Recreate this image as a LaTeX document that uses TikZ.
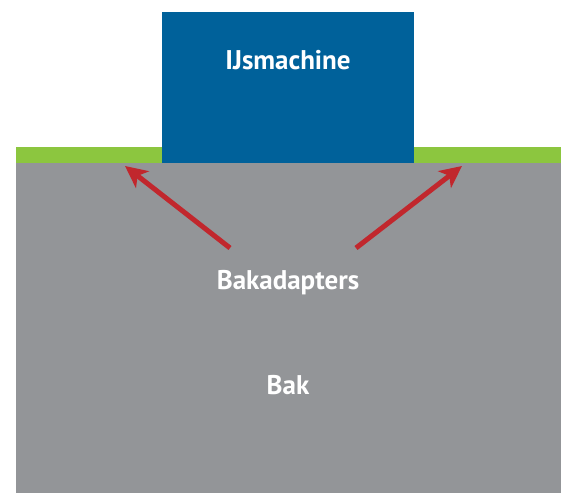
\documentclass[tikz,border=0pt]{standalone}
\usepackage{fontspec}
\setmainfont{PT Sans}
\usetikzlibrary{arrows.meta}
\definecolor{bakgray}{RGB}{147,149,152}
\definecolor{adgreen}{RGB}{140,198,63}
\definecolor{machblue}{RGB}{0,97,154}
\definecolor{arrred}{RGB}{193,39,45}
\tikzset{
  lbl/.style={text=white,font=\bfseries\fontsize{27}{31}\selectfont,inner sep=0pt},
  ptr/.style={draw=arrred,line width=5pt,-{Stealth[length=22pt,width=21pt,inset=6pt]}}
}
\begin{document}
\begin{tikzpicture}[x=1pt,y=-1pt]
\useasboundingbox (0,0) rectangle (566,493);
\fill[bakgray] (16,163) rectangle (561,493);
\fill[adgreen] (16,147) rectangle (561,163);
\fill[machblue] (162,12) rectangle (414,163);
\node[lbl] (mach) at (288,60) {IJsmachine};
\node[lbl] (adap) at (288,283) {Bakadapters};
\node[lbl] (bak) at (288,385) {Bak};
\coordinate (lt) at (230,248);
\coordinate (lh) at (125,166);
\coordinate (rt) at (356,248);
\coordinate (rh) at (462,166);
\draw[ptr] (lt) -- (lh);
\draw[ptr] (rt) -- (rh);
\end{tikzpicture}
\end{document}
